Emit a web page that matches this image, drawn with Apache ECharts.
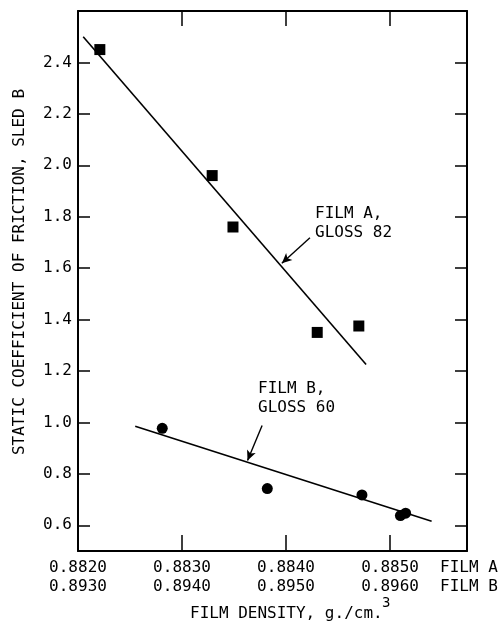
<!DOCTYPE html>
<html>
<head>
<meta charset="utf-8">
<script src="https://cdn.jsdelivr.net/npm/echarts@6/dist/echarts.min.js"></script>
<style>
  html, body { margin: 0; padding: 0; background: #fff; }
  #chart { width: 504px; height: 623px; }
</style>
</head>
<body>
<div id="chart"></div>
<script>
// film A (squares), density on the upper scale
var filmADensity = [0.88221, 0.88329, 0.88349, 0.88430, 0.88470];
var filmAFriction = [2.45, 1.96, 1.76, 1.35, 1.375];
// film B (circles), density on the lower scale
var filmBDensity = [0.89381, 0.89482, 0.89573, 0.89610, 0.89615];
var filmBFriction = [0.977, 0.743, 0.718, 0.638, 0.647];
// fitted lines, end points
var fitA = [[0.88205, 2.50], [0.88477, 1.225]];
var fitB = [[0.89355, 0.985], [0.89640, 0.616]];
// arrows from the notes to the lines
var arrowA = [[0.88423, 1.718], [0.88396, 1.619]];
var arrowB = [[0.89477, 0.988], [0.89463, 0.852]];

var yTicks = [0.6, 0.8, 1.0, 1.2, 1.4, 1.6, 1.8, 2.0, 2.2, 2.4];
var xTicksA = [0.882, 0.883, 0.884, 0.885];
var xTicksB = [0.893, 0.894, 0.895, 0.896];

var font = 'DejaVu Sans Mono';
var myChart = echarts.init(document.getElementById('chart'));

function pairs(xs, ys) {
	return xs.map(function (x, i) { return [x, ys[i]]; });
}

var option = {
	backgroundColor: '#fff',
	animation: false,
	grid: { left: 78, right: 37, top: 11, bottom: 72 },
	xAxis: [{
		type: 'value', position: 'bottom',
		min: 0.882, max: 0.88574,
		axisLine: { show: true, lineStyle: { color: '#000', width: 2 } },
		axisTick: { show: true, inside: true, length: 16, customValues: xTicksA, lineStyle: { color: '#000', width: 1.5 } },
		axisLabel: { customValues: xTicksA, margin: 9, color: '#000', fontFamily: font, fontSize: 16,
			formatter: function (v) { return v.toFixed(4); } },
		splitLine: { show: false }
	}, {
		type: 'value', position: 'bottom',
		min: 0.893, max: 0.89674,
		axisLine: { show: false },
		axisTick: { show: false },
		axisLabel: { customValues: xTicksB, margin: 28, color: '#000', fontFamily: font, fontSize: 16,
			formatter: function (v) { return v.toFixed(4); } },
		splitLine: { show: false }
	}, {
		type: 'value', position: 'top',
		min: 0.882, max: 0.88574,
		axisLine: { show: true, lineStyle: { color: '#000', width: 2 } },
		axisTick: { show: true, inside: true, length: 15, customValues: xTicksA, lineStyle: { color: '#000', width: 1.5 } },
		axisLabel: { show: false },
		splitLine: { show: false }
	}],
	yAxis: [{
		type: 'value', position: 'left',
		min: 0.5, max: 2.6,
		name: 'STATIC COEFFICIENT OF FRICTION, SLED B',
		nameLocation: 'middle', nameGap: 50, nameRotate: 90,
		nameTextStyle: { color: '#000', fontFamily: font, fontSize: 16, padding: [0, 0, 0, 18] },
		axisLine: { show: true, lineStyle: { color: '#000', width: 2 } },
		axisTick: { show: true, inside: true, length: 12, customValues: yTicks, lineStyle: { color: '#000', width: 1.5 } },
		axisLabel: { customValues: yTicks, margin: 6, color: '#000', fontFamily: font, fontSize: 16,
			formatter: function (v) { return v.toFixed(1); } },
		splitLine: { show: false }
	}, {
		type: 'value', position: 'right',
		min: 0.5, max: 2.6,
		axisLine: { show: true, lineStyle: { color: '#000', width: 2 } },
		axisTick: { show: true, inside: true, length: 12, customValues: yTicks, lineStyle: { color: '#000', width: 1.5 } },
		axisLabel: { show: false },
		splitLine: { show: false }
	}],
	series: [{
		name: 'Film A', type: 'scatter', xAxisIndex: 0, yAxisIndex: 0,
		symbol: 'rect', symbolSize: 11,
		itemStyle: { color: '#000', opacity: 1 },
		data: pairs(filmADensity, filmAFriction)
	}, {
		name: 'Film A fit', type: 'line', xAxisIndex: 0, yAxisIndex: 0,
		showSymbol: false, lineStyle: { color: '#000', width: 1.6 },
		data: fitA,
		markLine: {
			silent: true, symbol: ['none', 'arrow'], symbolSize: [7, 10],
			label: { show: false },
			lineStyle: { color: '#000', width: 1.4, type: 'solid' },
			data: [[{ coord: arrowA[0] }, { coord: arrowA[1] }]]
		}
	}, {
		name: 'Film B', type: 'scatter', xAxisIndex: 1, yAxisIndex: 0,
		symbol: 'circle', symbolSize: 11,
		itemStyle: { color: '#000', opacity: 1 },
		data: pairs(filmBDensity, filmBFriction)
	}, {
		name: 'Film B fit', type: 'line', xAxisIndex: 1, yAxisIndex: 0,
		showSymbol: false, lineStyle: { color: '#000', width: 1.6 },
		data: fitB,
		markLine: {
			silent: true, symbol: ['none', 'arrow'], symbolSize: [7, 10],
			label: { show: false },
			lineStyle: { color: '#000', width: 1.4, type: 'solid' },
			data: [[{ coord: arrowB[0] }, { coord: arrowB[1] }]]
		}
	}],
	graphic: [
		{ type: 'text', left: 315, top: 204, style: { text: 'FILM A,\nGLOSS 82', fill: '#000', font: '16px ' + font, lineHeight: 19 } },
		{ type: 'text', left: 258, top: 379, style: { text: 'FILM B,\nGLOSS 60', fill: '#000', font: '16px ' + font, lineHeight: 19 } },
		{ type: 'text', left: 440, top: 558, style: { text: 'FILM A\nFILM B', fill: '#000', font: '16px ' + font, lineHeight: 19 } },
		{ type: 'text', left: 190, top: 606, style: { text: 'FILM DENSITY, g./cm.', fill: '#000', font: '16px ' + font } },
		{ type: 'text', left: 382, top: 596, style: { text: '3', fill: '#000', font: '14px ' + font } }
	]
};
myChart.setOption(option);
window.addEventListener('resize', function () {
	myChart.resize();
});
</script>
</body>
</html>
